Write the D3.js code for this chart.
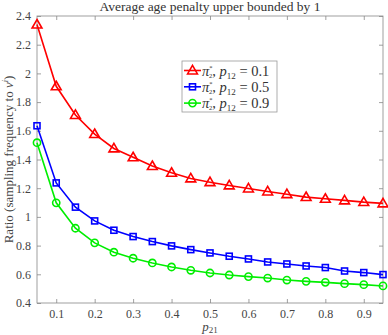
<!DOCTYPE html>
<html>
<head>
<meta charset="utf-8">
<script src="https://cdn.jsdelivr.net/npm/d3@7"></script>
<style>
  body { margin: 0; background: #fff; }
  text { font-family: "Liberation Serif", "DejaVu Serif", serif; }
</style>
</head>
<body>
<div id="chart"></div>
<script>
const p21 = [0.05, 0.1, 0.15, 0.2, 0.25, 0.3, 0.35, 0.4, 0.45, 0.5, 0.55, 0.6, 0.65, 0.7, 0.75, 0.8, 0.85, 0.9, 0.95];
const ratioP01 = [2.34, 1.91, 1.71, 1.577, 1.477, 1.415, 1.354, 1.307, 1.268, 1.242, 1.219, 1.198, 1.177, 1.158, 1.138, 1.126, 1.115, 1.103, 1.094];
const ratioP05 = [1.635, 1.237, 1.068, 0.972, 0.907, 0.863, 0.828, 0.798, 0.772, 0.749, 0.726, 0.707, 0.686, 0.672, 0.658, 0.647, 0.623, 0.612, 0.598];
const ratioP09 = [1.517, 1.098, 0.921, 0.819, 0.754, 0.712, 0.679, 0.651, 0.628, 0.609, 0.595, 0.584, 0.574, 0.56, 0.551, 0.544, 0.535, 0.528, 0.519];
const xTicks = [0.1, 0.2, 0.3, 0.4, 0.5, 0.6, 0.7, 0.8, 0.9];
const yTicks = [0.4, 0.6, 0.8, 1, 1.2, 1.4, 1.6, 1.8, 2, 2.2, 2.4];
const p12Labels = ["0.1", "0.5", "0.9"];

const w = 388, h = 335;
const margin = { left: 37, right: 5, top: 16, bottom: 32 };

const svg = d3.select("#chart").append("svg")
  .attr("width", w).attr("height", h);

const xScale = d3.scaleLinear().domain([0.05, 0.95]).range([margin.left, w - margin.right]);
const yScale = d3.scaleLinear().domain([0.4, 2.4]).range([h - margin.bottom, margin.top]);

const tickLen = 4;

// box
svg.append("rect")
  .attr("x", xScale(0.05)).attr("y", yScale(2.4))
  .attr("width", xScale(0.95) - xScale(0.05))
  .attr("height", yScale(0.4) - yScale(2.4))
  .attr("fill", "none").attr("stroke", "#888").attr("stroke-width", 0.8);

// inward ticks on all sides
const xAxisB = svg.append("g")
  .attr("transform", `translate(0, ${yScale(0.4)})`)
  .call(d3.axisBottom(xScale).tickValues(xTicks).tickSize(-tickLen).tickPadding(6).tickFormat(d3.format("")));
const xAxisT = svg.append("g")
  .attr("transform", `translate(0, ${yScale(2.4)})`)
  .call(d3.axisTop(xScale).tickValues(xTicks).tickSize(-tickLen).tickFormat(""));
const yAxisL = svg.append("g")
  .attr("transform", `translate(${xScale(0.05)}, 0)`)
  .call(d3.axisLeft(yScale).tickValues(yTicks).tickSize(-tickLen).tickPadding(6).tickFormat(d3.format("")));
const yAxisR = svg.append("g")
  .attr("transform", `translate(${xScale(0.95)}, 0)`)
  .call(d3.axisRight(yScale).tickValues(yTicks).tickSize(-tickLen).tickFormat(""));

[xAxisB, xAxisT, yAxisL, yAxisR].forEach(g => {
  g.select(".domain").remove();
  g.selectAll("line").attr("stroke", "#888").attr("stroke-width", 0.8);
  g.selectAll("text").attr("fill", "#444").attr("font-size", 12)
    .style("font-family", "'Liberation Serif', serif");
});

// title
svg.append("text")
  .attr("x", (xScale(0.05) + xScale(0.95)) / 2).attr("y", 11)
  .attr("text-anchor", "middle").attr("font-size", 13.5).attr("fill", "#333")
  .text("Average age penalty upper bounded by 1");

// x label
const xl = svg.append("text")
  .attr("x", xScale(0.5)).attr("y", 331)
  .attr("text-anchor", "middle").attr("font-size", 13).attr("fill", "#444")
  .attr("font-style", "italic");
xl.append("tspan").text("p");
xl.append("tspan").attr("font-size", 9).attr("font-style", "normal").attr("dy", 2).text("21");

// y label
const yl = svg.append("text")
  .attr("transform", `translate(13, ${(yScale(0.4) + yScale(2.4)) / 2}) rotate(-90)`)
  .attr("text-anchor", "middle").attr("font-size", 13).attr("fill", "#444");
yl.append("tspan").text("Ratio (sampling frequency to ");
yl.append("tspan").attr("font-style", "italic").text("ν");
yl.append("tspan").attr("font-size", 8).attr("dy", -5).attr("font-style", "italic").text("i");
yl.append("tspan").attr("dy", 5).text(")");

const series = [
  { values: ratioP01, color: "#ff0000", marker: "triangle", label: p12Labels[0] },
  { values: ratioP05, color: "#0000ff", marker: "square", label: p12Labels[1] },
  { values: ratioP09, color: "#00ee00", marker: "circle", label: p12Labels[2] }
];

const line = d3.line().x((d, i) => xScale(p21[i])).y(d => yScale(d));

function drawMarker(g, type, x, y, color) {
  if (type === "triangle") {
    g.append("path").attr("d", d3.symbol(d3.symbolTriangle, 42)())
      .attr("transform", `translate(${x},${y + 0.6})`)
      .attr("fill", "none").attr("stroke", color).attr("stroke-width", 1.6);
  } else if (type === "square") {
    g.append("rect").attr("x", x - 3).attr("y", y - 3).attr("width", 6).attr("height", 6)
      .attr("fill", "none").attr("stroke", color).attr("stroke-width", 1.6);
  } else {
    g.append("circle").attr("cx", x).attr("cy", y).attr("r", 3.6)
      .attr("fill", "none").attr("stroke", color).attr("stroke-width", 1.6);
  }
}

series.forEach(s => {
  svg.append("path").datum(s.values)
    .attr("d", line).attr("fill", "none").attr("stroke", s.color).attr("stroke-width", 1.6);
  const mg = svg.append("g");
  s.values.forEach((v, i) => drawMarker(mg, s.marker, xScale(p21[i]), yScale(v), s.color));
});

// legend
const lg = svg.append("g").attr("transform", "translate(182, 61)");
lg.append("rect").attr("width", 95).attr("height", 51)
  .attr("fill", "#fff").attr("stroke", "#999").attr("stroke-width", 0.8);
series.forEach((s, i) => {
  const y = 9.5 + i * 16.3;
  lg.append("line").attr("x1", 2).attr("x2", 19).attr("y1", y).attr("y2", y)
    .attr("stroke", s.color).attr("stroke-width", 1.6);
  drawMarker(lg, s.marker, 10.5, y, s.color);
  const t = lg.append("text").attr("x", 20).attr("y", y + 5)
    .attr("font-size", 14.5).attr("fill", "#333");
  t.append("tspan").attr("font-style", "italic").text("π");
  t.append("tspan").attr("font-size", 6.5).attr("dy", -6).text("*");
  t.append("tspan").attr("font-size", 6.5).attr("dx", -3.5).attr("dy", 8).text("2");
  t.append("tspan").attr("dy", -2).text(", ");
  t.append("tspan").attr("font-style", "italic").text("p");
  t.append("tspan").attr("font-size", 9).attr("dy", 3).text("12");
  t.append("tspan").attr("dy", -3).text(" = " + s.label);
});
</script>
</body>
</html>
